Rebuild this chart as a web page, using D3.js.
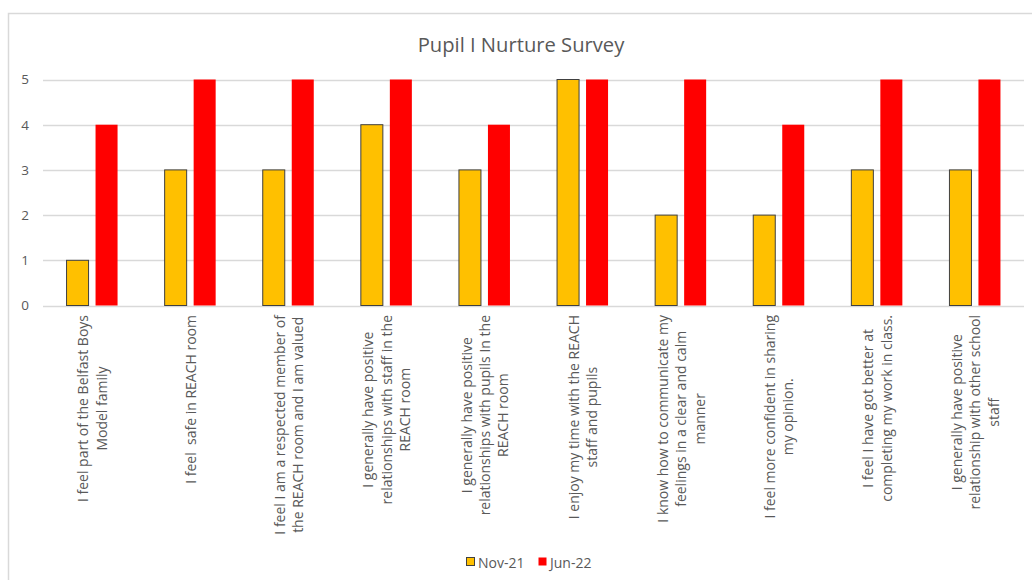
<!DOCTYPE html>
<html>
<head>
<meta charset="utf-8">
<script src="https://cdn.jsdelivr.net/npm/d3@7"></script>
<style>
  html, body { margin: 0; padding: 0; background: #fff; }
  svg { display: block; font-family: "Open Sans", sans-serif; }
</style>
</head>
<body>
<svg id="chart" width="1032" height="580"></svg>
<script>
// Survey statements (each entry is a list of wrapped lines)
const categories = [
  ["I feel part of the Belfast Boys", "Model family"],
  ["I feel  safe in REACH room"],
  ["I feel I am a respected member of", "the REACH room and I am valued"],
  ["I generally have positive", "relationships with staff in the", "REACH room"],
  ["I generally have positive", "relationships with pupils In the", "REACH room"],
  ["I enjoy my time with the REACH", "staff and pupils"],
  ["I know how to communicate my", "feelings in a clear and calm", "manner"],
  ["I feel more confident in sharing", "my opinion."],
  ["I feel I have got better at", "completing my work in class."],
  ["I generally have positive", "relationship with other school", "staff"]
];
const seriesNames = ["Nov-21", "Jun-22"];
const nov21 = [1, 3, 3, 4, 3, 5, 2, 2, 3, 3];
const jun22 = [4, 5, 5, 5, 4, 5, 5, 4, 5, 5];
const yTicks = [0, 1, 2, 3, 4, 5];
const chartTitle = "Pupil I Nurture Survey";

const colors = { "Nov-21": "#FFC000", "Jun-22": "#FF0000" };
const textColor = "#595959";
const gridColor = "#D9D9D9";

const svg = d3.select("#chart");
const W = 1032, H = 580;

// outer chart frame
svg.append("rect")
  .attr("x", 8.5).attr("y", 13.5)
  .attr("width", W + 20).attr("height", H + 20)
  .attr("fill", "#fff").attr("stroke", gridColor).attr("stroke-width", 1.5);

const plot = { left: 43, right: 1024, top: 79.5, bottom: 305.5 };

const keys = categories.map((c, i) => "c" + i);
const x0 = d3.scaleBand().domain(keys)
  .range([plot.left, plot.right])
  .paddingInner(0.48).paddingOuter(0.24);
const x1 = d3.scaleBand().domain(seriesNames)
  .range([0, x0.bandwidth()])
  .paddingInner(0.241).paddingOuter(0);
const y = d3.scaleLinear().domain([0, 5]).range([plot.bottom, plot.top]);

// title
svg.append("text")
  .attr("x", 521).attr("y", 52)
  .attr("text-anchor", "middle")
  .attr("fill", textColor)
  .style("font-size", "20.2px")
  .text(chartTitle);

// gridlines
svg.append("g").selectAll("line").data(yTicks).join("line")
  .attr("x1", plot.left).attr("x2", plot.right)
  .attr("y1", d => Math.round(y(d)) + 0.5).attr("y2", d => Math.round(y(d)) + 0.5)
  .attr("stroke", gridColor).attr("stroke-width", 1.3);

// y axis labels
const yAxis = d3.axisLeft(y).tickValues(yTicks).tickSize(0).tickPadding(0).tickFormat(d3.format("d"));
const yg = svg.append("g").attr("transform", `translate(29,0)`).call(yAxis);
yg.select(".domain").remove();
yg.selectAll("text").attr("fill", textColor).style("font-size", "13.5px")
  .style("font-family", "'Open Sans', sans-serif");

// bars
const rows = categories.map((c, i) => ({ key: keys[i], values: [
  { name: "Nov-21", value: nov21[i] },
  { name: "Jun-22", value: jun22[i] }
]}));

const groups = svg.append("g").selectAll("g").data(rows).join("g")
  .attr("transform", d => `translate(${x0(d.key)},0)`);

groups.selectAll("rect").data(d => d.values).join("rect")
  .attr("x", d => x1(d.name))
  .attr("y", d => y(d.value))
  .attr("width", x1.bandwidth())
  .attr("height", d => y(0) - y(d.value))
  .attr("fill", d => colors[d.name])
  .attr("stroke", d => d.name === "Nov-21" ? "#404040" : "none")
  .attr("stroke-width", 1);

// category labels, rotated, anchored below the axis
const lineH = 18.4;
const labelTop = 315;
const labelG = svg.append("g");
categories.forEach((lines, i) => {
  const cx = x0(keys[i]) + x0.bandwidth() / 2;
  const g = labelG.append("g");
  const texts = lines.map((ln, j) => g.append("text")
    .attr("text-anchor", "middle")
    .attr("dominant-baseline", "central")
    .attr("fill", textColor)
    .style("font-size", "14px")
    .style("white-space", "pre")
    .text(ln));
  const maxW = d3.max(texts, t => t.node().getComputedTextLength());
  const n = lines.length;
  texts.forEach((t, j) => {
    const off = (j - (n - 1) / 2) * lineH;
    t.attr("transform", `translate(${cx + off},${labelTop + maxW / 2}) rotate(-90)`);
  });
});

// legend
const legend = svg.append("g").attr("transform", "translate(466,562)");
const legendItems = [
  { name: "Nov-21", x: 0 },
  { name: "Jun-22", x: 72 }
];
const li = legend.selectAll("g").data(legendItems).join("g")
  .attr("transform", d => `translate(${d.x},0)`);
li.append("rect")
  .attr("x", 0.5).attr("y", -4.5).attr("width", 8).attr("height", 8)
  .attr("fill", d => colors[d.name])
  .attr("stroke", d => d.name === "Nov-21" ? "#404040" : "none");
li.append("text")
  .attr("x", 12).attr("y", 0)
  .attr("dominant-baseline", "central")
  .attr("fill", textColor)
  .style("font-size", "14px")
  .text(d => d.name);
</script>
</body>
</html>
